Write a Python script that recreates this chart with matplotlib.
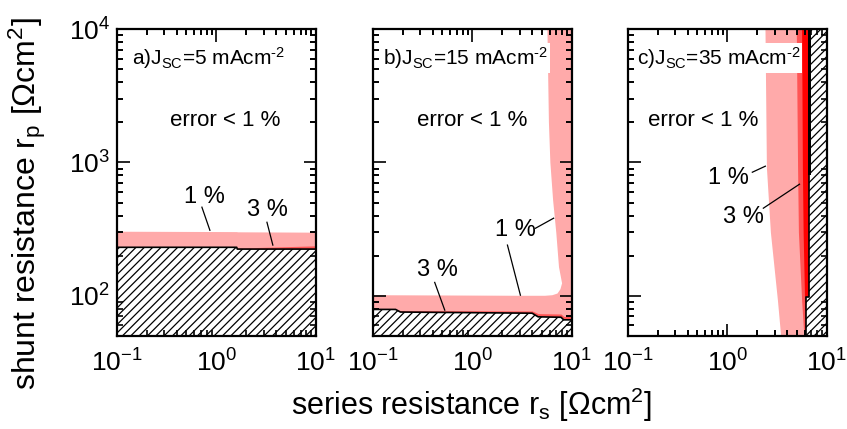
import numpy as np
import matplotlib
matplotlib.use("Agg")
import matplotlib.pyplot as plt
from matplotlib.ticker import NullFormatter

plt.rcParams['font.family'] = ['Liberation Sans', 'DejaVu Sans']
plt.rcParams['mathtext.fontset'] = 'custom'
plt.rcParams['mathtext.rm'] = 'Liberation Sans'
plt.rcParams['mathtext.it'] = 'Liberation Sans:italic'
plt.rcParams['mathtext.bf'] = 'Liberation Sans:bold'
plt.rcParams['hatch.linewidth'] = 0.9

PINK = '#ffaaaa'
MRED = '#ff5555'
RED = '#ff0000'

# panel a) Jsc = 5 mA/cm2  -- contours
a_rs = [0.1, 1.6, 1.62, 10]
a_rp1 = [305, 303, 302, 300]          # 1 % contour
a_rp3 = [231, 230, 228, 237]          # 3 % contour
a_hatch = [231, 231, 224, 224]        # invalid region (below)

# panel b) Jsc = 15 mA/cm2
b_rs1 = [0.1, 3.0, 5.4, 6.4, 7.2, 7.7, 8.0, 7.45, 7.0, 6.5, 6.1, 5.9, 5.7]
b_rp1 = [101, 100, 100, 101, 104, 112, 124, 164, 296, 521, 1000, 2000, 10000]
b_rs = [0.1, 0.17, 0.19, 4.0, 4.6, 7.8, 8.3, 10]
b_rp3 = [79, 79, 77.5, 77, 73.5, 73, 70, 70]
b_hatch = [79, 79, 75.5, 74, 69.5, 69, 66, 66]

# panel c) Jsc = 35 mA/cm2
c_rp = [50, 93, 300, 920, 10000]
c_rs1 = [3.45, 3.2, 2.72, 2.48, 2.40]
c_rs3 = [5.9, 5.6, 5.2, 5.1, 4.95]
c_rs5 = [6.1, 6.0, 5.8, 5.7, 5.6]
c_hatch_rp = [50, 98, 98, 10000]
c_hatch_rs = [6.15, 6.15, 6.6, 6.6]
c_black_rp = [800, 10000]

labels = ['a)J$_{\\mathrm{SC}}$=5 mAcm$^{\\text{-2}}$',
          'b)J$_{\\mathrm{SC}}$=15 mAcm$^{\\text{-2}}$',
          'c)J$_{\\mathrm{SC}}$=35 mAcm$^{\\text{-2}}$']
label_x = [0.075, 0.05, 0.045]
err_x = [1.22, 1.0, 0.573]

x_major = [0.1, 1, 10]
y_major = [100, 1000, 10000]
x_minor = [k * 10.0 ** d for d in (-1, 0) for k in range(2, 10)]
y_minor = [k * 10.0 ** d for d in (1, 2, 3) for k in range(2, 10)]
y_minor = [v for v in y_minor if v >= 50]

fig = plt.figure(figsize=(8.47, 4.29), dpi=100)
lefts = [0.138, 0.440, 0.741]
axs = [fig.add_axes([l, 0.217, 0.235, 0.715]) for l in lefts]

for i, ax in enumerate(axs):
    ax.set_xscale('log')
    ax.set_yscale('log')
    ax.set_xlim(0.1, 10)
    ax.set_ylim(50, 1e4)
    ax.text(label_x[i], 0.905, labels[i], transform=ax.transAxes, fontsize=15,
            ha='left', va='center', zorder=6,
            bbox=dict(fc='white', ec='none', pad=1.5))
    ax.text(err_x[i], 2075, 'error < 1 %', fontsize=16, ha='center', va='center', zorder=6)

# a
ax = axs[0]
ax.fill_between(a_rs, 50, a_rp1, color=PINK, lw=0, zorder=1)
ax.fill_between(a_rs, 50, a_rp3, color=MRED, lw=0, zorder=2)
ax.fill_between(a_rs, 50, a_hatch, facecolor='white', edgecolor='black', hatch='////', lw=0, zorder=3)
ax.plot(a_rs, a_hatch, color='black', lw=1.2, zorder=4)
ax.text(0.766, 550, '1 %', fontsize=17, ha='center', va='center')
ax.plot([0.715, 0.86], [462, 310], color='black', lw=0.9)
ax.text(3.22, 438, '3 %', fontsize=17, ha='center', va='center')
ax.plot([3.22, 3.69], [356, 240], color='black', lw=0.9)

# b
ax = axs[1]
ax.fill(np.r_[b_rs1, 10, 10, 0.1], np.r_[b_rp1, 1e4, 50, 50], color=PINK, lw=0, zorder=1)
ax.fill_between(b_rs, 50, b_rp3, color=MRED, lw=0, zorder=2)
ax.fill_between(b_rs, 50, b_hatch, facecolor='white', edgecolor='black', hatch='////', lw=0, zorder=3)
ax.plot(b_rs, b_hatch, color='black', lw=1.2, zorder=4)
ax.text(2.72, 310, '1 %', fontsize=17, ha='center', va='center')
ax.plot([4.32, 6.58], [321, 382], color='black', lw=0.9)
ax.plot([2.26, 3.05], [240, 101], color='black', lw=0.9)
ax.text(0.443, 156, '3 %', fontsize=17, ha='center', va='center')
ax.plot([0.42, 0.53], [126, 78], color='black', lw=0.9)

# c
ax = axs[2]
ax.fill_betweenx(c_rp, c_rs1, 10, color=PINK, lw=0, zorder=1)
ax.fill_betweenx(c_rp, c_rs3, 10, color=MRED, lw=0, zorder=2)
ax.fill_betweenx(c_rp, c_rs5, 10, color=RED, lw=0, zorder=2)
ax.fill_betweenx(c_hatch_rp, c_hatch_rs, 10, facecolor='white', edgecolor='black', hatch='////', lw=0, zorder=3)
ax.plot(c_hatch_rs, c_hatch_rp, color='black', lw=1.2, zorder=4)
ax.fill_betweenx(c_black_rp, 6.5, 6.9, color='black', lw=0, zorder=4)
ax.text(1.02, 762, '1 %', fontsize=17, ha='center', va='center')
ax.plot([1.79, 2.42], [845, 938], color='black', lw=0.9)
ax.text(1.45, 389, '3 %', fontsize=17, ha='center', va='center')
ax.plot([2.31, 5.33], [454, 687], color='black', lw=0.9)

# ticks and frame
for i, ax in enumerate(axs):
    ax.set_xticks(x_major)
    ax.set_yticks(y_major)
    ax.set_xticks(x_minor, minor=True)
    ax.set_yticks(y_minor, minor=True)
    ax.xaxis.set_minor_formatter(NullFormatter())
    ax.yaxis.set_minor_formatter(NullFormatter())
    ax.tick_params(which='both', direction='in', top=True, right=True, width=1.2)
    ax.tick_params(which='major', length=9, labelsize=19)
    ax.tick_params(axis='x', which='major', pad=10)
    ax.tick_params(axis='y', which='major', pad=5)
    ax.tick_params(which='minor', length=4.5)
    if i > 0:
        ax.set_yticklabels([])
    # short minor ticks also drawn as plain segments on the frame
    xt = ax.get_xaxis_transform()
    yt = ax.get_yaxis_transform()
    for v in x_minor:
        ax.plot([v, v], [0, 0.02], transform=xt, color='black', lw=1.2, zorder=9,
                solid_capstyle='butt')
        ax.plot([v, v], [0.98, 1], transform=xt, color='black', lw=1.2, zorder=9,
                solid_capstyle='butt')
    for v in y_minor:
        ax.plot([0, 0.031], [v, v], transform=yt, color='black', lw=1.2, zorder=9,
                solid_capstyle='butt')
        ax.plot([0.969, 1], [v, v], transform=yt, color='black', lw=1.2, zorder=9,
                solid_capstyle='butt')
    ax.set_xlim(0.1, 10)
    ax.set_ylim(50, 1e4)
    ax.set_axisbelow(False)
    for s in ax.spines.values():
        s.set_linewidth(1.6)
        s.set_zorder(10)

fig.text(0.557, 0.056, 'series resistance r$_\\mathrm{s}$ [$\\Omega$cm$^2$]',
         fontsize=22, ha='center', va='center')
fig.text(0.032, 0.525, 'shunt resistance r$_\\mathrm{p}$ [$\\Omega$cm$^2$]',
         fontsize=23, ha='center', va='center', rotation=90)

fig.canvas.draw()
fig.savefig('out.png', dpi=100)
